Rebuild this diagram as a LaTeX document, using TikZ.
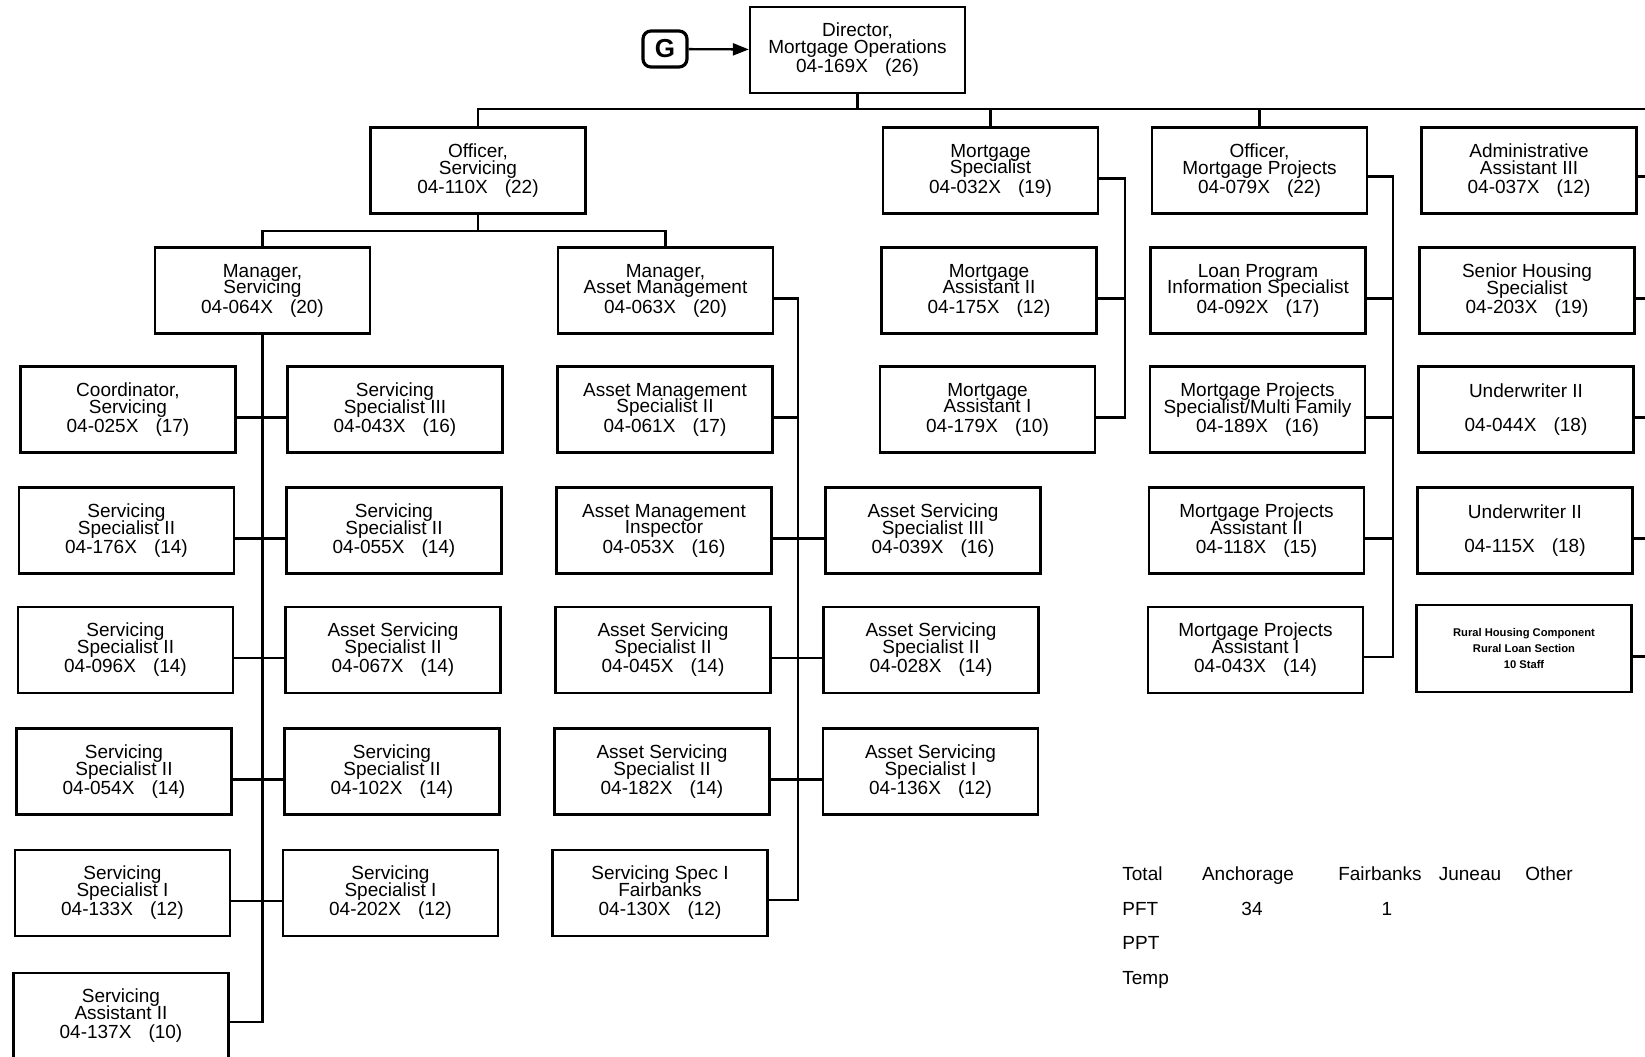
\documentclass[tikz,border=0pt]{standalone}
\usepackage{fontspec}
\setmainfont{Liberation Sans}
\usetikzlibrary{calc,arrows.meta}
% three-line position label: title, title, code and grade
\newcommand\jobtext[4]{#1\\#2\\[1.2pt]#3\hspace{0.9em}(#4)}
\newcommand\uwtext[2]{Underwriter II\\[9pt]#1\hspace{0.9em}(#2)}
% fixed baseline distance, no extra lineskip
\newcommand\tightlines{\lineskiplimit-20pt\relax\lineskip0pt\relax}
\begin{document}
\begin{tikzpicture}[x=0.5pt,y=-0.5pt,
  post/.style={draw, line width=1.15pt, minimum width=107.5pt, minimum height=43pt,
    inner sep=0pt, align=center,
    font=\fontsize{9.5}{8.4}\selectfont\tightlines},
  link/.style={line width=1.15pt},
  legend/.style={anchor=base, inner sep=0pt, font=\fontsize{9.5}{11}\selectfont},
  legendL/.style={legend, anchor=base west}]
\useasboundingbox (0,0) rectangle (1645,1056);
\fill[white] (0,0) rectangle (1645,1056);
\clip (0,0) rectangle (1645,1056);

% ---- top of the division
\node[draw, line width=1.6pt, rounded corners=4pt, minimum width=22pt, minimum height=18pt,
  inner sep=0pt, font=\bfseries\fontsize{13}{13}\selectfont] (g) at (665,49) {G};
\node[post] (dir) at (857.5,50) {\jobtext{Director,}{Mortgage Operations}{04-169X}{26}};
\draw[link, -{Triangle[length=8pt,width=6pt]}] (g) -- (dir);

% ---- second level
\node[post] (os)  at (478,170.5)    {\jobtext{Officer,}{Servicing}{04-110X}{22}};
\node[post] (msp) at (990.5,170.5)  {\jobtext{Mortgage}{Specialist}{04-032X}{19}};
\node[post] (omp) at (1259.5,170.5) {\jobtext{Officer,}{Mortgage Projects}{04-079X}{22}};
\node[post] (aa3) at (1529,170.5)   {\jobtext{Administrative}{Assistant III}{04-037X}{12}};

% ---- row 2
\node[post] (ms)  at (262.5,290.5) {\jobtext{Manager,}{Servicing}{04-064X}{20}};
\node[post] (mam) at (665.5,290.5) {\jobtext{Manager,}{Asset Management}{04-063X}{20}};
\node[post] (ma2) at (989,290.5)   {\jobtext{Mortgage}{Assistant II}{04-175X}{12}};
\node[post] (lp)  at (1258,290.5)  {\jobtext{Loan Program}{Information Specialist}{04-092X}{17}};
\node[post] (shs) at (1527,290.5)  {\jobtext{Senior Housing}{Specialist}{04-203X}{19}};

% ---- row 3
\node[post] (co)   at (128,409.5)    {\jobtext{Coordinator,}{Servicing}{04-025X}{17}};
\node[post] (ss3)  at (395,409.5)    {\jobtext{Servicing}{Specialist III}{04-043X}{16}};
\node[post] (ams2) at (665,409.5)    {\jobtext{Asset Management}{Specialist II}{04-061X}{17}};
\node[post] (ma1)  at (987.5,409.5)  {\jobtext{Mortgage}{Assistant I}{04-179X}{10}};
\node[post] (mps)  at (1257.5,409.5) {\jobtext{Mortgage Projects}{Specialist/Multi Family}{04-189X}{16}};
\node[post] (uw1)  at (1526,409.5)   {\uwtext{04-044X}{18}};

% ---- row 4
\node[post] (s176) at (126.5,530.5)  {\jobtext{Servicing}{Specialist II}{04-176X}{14}};
\node[post] (s055) at (394,530.5)    {\jobtext{Servicing}{Specialist II}{04-055X}{14}};
\node[post] (ami)  at (664,530.5)    {\jobtext{Asset Management}{Inspector}{04-053X}{16}};
\node[post] (as3)  at (933,530.5)    {\jobtext{Asset Servicing}{Specialist III}{04-039X}{16}};
\node[post] (mpa2) at (1256.5,530.5) {\jobtext{Mortgage Projects}{Assistant II}{04-118X}{15}};
\node[post] (uw2)  at (1525,530.5)   {\uwtext{04-115X}{18}};

% ---- row 5
\node[post] (s096) at (125.5,650)  {\jobtext{Servicing}{Specialist II}{04-096X}{14}};
\node[post] (a067) at (393,650)    {\jobtext{Asset Servicing}{Specialist II}{04-067X}{14}};
\node[post] (a045) at (663,650)    {\jobtext{Asset Servicing}{Specialist II}{04-045X}{14}};
\node[post] (a028) at (931,650)    {\jobtext{Asset Servicing}{Specialist II}{04-028X}{14}};
\node[post] (mpa1) at (1255.5,650) {\jobtext{Mortgage Projects}{Assistant I}{04-043X}{14}};
\node[draw, line width=1.4pt, minimum width=107.5pt, minimum height=43.5pt, inner sep=0pt,
  align=center, font=\bfseries\fontsize{5.6}{8}\selectfont] (rural) at (1524,648.5)
  {Rural Housing Component\\Rural Loan Section\\10 Staff};

% ---- row 6
\node[post] (s054) at (124,771.5)   {\jobtext{Servicing}{Specialist II}{04-054X}{14}};
\node[post] (s102) at (392,771.5)   {\jobtext{Servicing}{Specialist II}{04-102X}{14}};
\node[post] (a182) at (662,771.5)   {\jobtext{Asset Servicing}{Specialist II}{04-182X}{14}};
\node[post] (a136) at (930.5,771.5) {\jobtext{Asset Servicing}{Specialist I}{04-136X}{12}};

% ---- row 7
\node[post] (s133) at (122.5,893) {\jobtext{Servicing}{Specialist I}{04-133X}{12}};
\node[post] (s202) at (390.5,893) {\jobtext{Servicing}{Specialist I}{04-202X}{12}};
\node[post] (fb)   at (660,893)   {\jobtext{Servicing Spec I}{Fairbanks}{04-130X}{12}};

% ---- row 8
\node[post] (sa2) at (121,1016) {\jobtext{Servicing}{Assistant II}{04-137X}{10}};

% ---- main trunk under the director
\coordinate (trunk) at (1660,109);
\draw[link] (os.north) |- (trunk);
\draw[link] (dir.south) -- (dir.south |- trunk);
\draw[link] (msp.north) -- (msp.north |- trunk);
\draw[link] (omp.north) -- (omp.north |- trunk);

% ---- servicing branch
\coordinate (osj) at ($(os.south)+(0,16)$);
\draw[link] (os.south) -- (osj);
\draw[link] (ms.north) |- (osj) -| (mam.north);

% left spine under Manager, Servicing
\draw[link] (ms.south) |- ($(sa2.east)+(0,6)$);
\draw[link] ($(co.east)+(0,8)$)   -- ($(ss3.west)+(0,8)$);
\draw[link] ($(s176.east)+(0,8)$) -- ($(s055.west)+(0,8)$);
\draw[link] ($(s096.east)+(0,8)$) -- ($(a067.west)+(0,8)$);
\draw[link] ($(s054.east)+(0,8)$) -- ($(s102.west)+(0,8)$);
\draw[link] ($(s133.east)+(0,8)$) -- ($(s202.west)+(0,8)$);

% spine beside Manager, Asset Management
\coordinate (amx) at ($(mam.east)+(24,8)$);
\draw[link] ($(mam.east)+(0,8)$) -- (amx) |- ($(fb.east)+(0,7)$);
\draw[link] ($(ams2.east)+(0,8)$) -- ++(24.5,0);
\draw[link] ($(ami.east)+(0,8)$)  -- ($(as3.west)+(0,8)$);
\draw[link] ($(a045.east)+(0,8)$) -- ($(a028.west)+(0,8)$);
\draw[link] ($(a182.east)+(0,8)$) -- ($(a136.west)+(0,8)$);

% ---- mortgage specialist group
\coordinate (mx) at ($(msp.east)+(26,8)$);
\draw[link] ($(msp.east)+(0,8)$) -- (mx) |- ($(ma1.east)+(0,8)$);
\draw[link] ($(ma2.east)+(0,8)$) -- ++(27.5,0);

% ---- mortgage projects group
\coordinate (px) at ($(omp.east)+(25,6)$);
\draw[link] ($(omp.east)+(0,6)$) -- (px) |- ($(mpa1.east)+(0,7)$);
\draw[link] ($(lp.east)+(0,8)$)   -- ++(26.5,0);
\draw[link] ($(mps.east)+(0,8)$)  -- ++(27,0);
\draw[link] ($(mpa2.east)+(0,8)$) -- ++(28,0);

% ---- administrative group, its spine runs past the right edge
\draw[link] ($(aa3.east)+(0,6)$)   -- ++(30,0);
\draw[link] ($(shs.east)+(0,8)$)   -- ++(30,0);
\draw[link] ($(uw1.east)+(0,8)$)   -- ++(30,0);
\draw[link] ($(uw2.east)+(0,8)$)   -- ++(30,0);
\draw[link] ($(rural.east)+(0,8)$) -- ++(30,0);

% ---- staffing summary
\node[legendL] (lt)  at (1122,880) {Total};
\node[legend]  (la)  at (1248,880) {Anchorage};
\node[legend]  (lf)  at (1380,880) {Fairbanks};
\node[legend]  (lj)  at (1470,880) {Juneau};
\node[legend]  (lo)  at (1549,880) {Other};
\node[legendL] (lp1) at (1122,915) {PFT};
\node[legend]  (la1) at (1252,915) {34};
\node[legend]  (lf1) at (1387,915) {1};
\node[legendL] (lp2) at (1122,949) {PPT};
\node[legendL] (lt2) at (1122,984) {Temp};
\end{tikzpicture}
\end{document}
